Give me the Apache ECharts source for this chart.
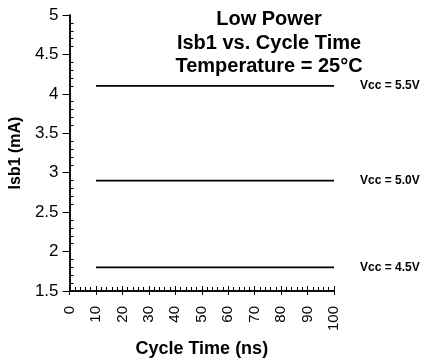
<!DOCTYPE html>
<html>
<head>
<meta charset="utf-8">
<style>
  html, body { margin: 0; padding: 0; background: #fff; }
  #chart { width: 428px; height: 363px; }
</style>
<script src="https://cdn.jsdelivr.net/npm/echarts@6/dist/echarts.min.js"></script>
</head>
<body>
<div id="chart"></div>
<script>
// Standby current vs. cycle time at three supply voltages
const cycleTimes = [10, 100];
const vcc55 = [4.1, 4.1];
const vcc50 = [2.9, 2.9];
const vcc45 = [1.8, 1.8];
const seriesNames = ['Vcc = 5.5V', 'Vcc = 5.0V', 'Vcc = 4.5V'];
const titleLines = ['Low Power', 'Isb1 vs. Cycle Time', 'Temperature = 25°C'];

const font = 'Arial, "Liberation Sans", Helvetica, sans-serif';
const chart = echarts.init(document.getElementById('chart'));

function makeSeries(name, values) {
  return {
    name: name,
    type: 'line',
    data: cycleTimes.map((t, i) => [t, values[i]]),
    symbol: 'none',
    lineStyle: { color: '#000', width: 1.7 },
    endLabel: {
      show: true,
      formatter: name,
      distance: 26,
      color: '#000',
      fontFamily: font,
      fontWeight: 'bold',
      fontSize: 12
    },
    silent: true
  };
}

const baseX = {
  type: 'value', min: 0, max: 100, interval: 10,
  axisLine: { lineStyle: { color: '#000', width: 1.5 } },
  splitLine: { show: false }
};
const baseY = {
  type: 'value', min: 1.5, max: 5, interval: 0.5,
  axisLine: { lineStyle: { color: '#000', width: 1.5 } },
  splitLine: { show: false }
};

chart.setOption({
  animation: false,
  title: {
    text: titleLines.join('\n'),
    left: 264, top: 3, textAlign: 'center',
    textStyle: { fontFamily: font, fontWeight: 'bold', fontSize: 20, lineHeight: 23.5, color: '#000' }
  },
  grid: { left: 65, top: 15, right: 94, bottom: 72 },
  xAxis: [
    Object.assign({}, baseX, {
      name: 'Cycle Time (ns)', nameLocation: 'middle', nameGap: 49,
      nameTextStyle: { fontFamily: font, fontWeight: 'bold', fontSize: 18, color: '#000' },
      axisTick: { show: true, inside: false, length: 4, lineStyle: { color: '#000' } },
      axisLabel: { rotate: 90, fontFamily: font, fontSize: 15, color: '#000', margin: 15 }
    }),
    Object.assign({}, baseX, {
      position: 'bottom',
      axisTick: { show: true, inside: true, length: 5, lineStyle: { color: '#000' } },
      axisLabel: { show: false },
      minorTick: { show: true, splitNumber: 5, length: 4, lineStyle: { color: '#000' } }
    })
  ],
  yAxis: [
    Object.assign({}, baseY, {
      name: 'Isb1 (mA)', nameLocation: 'middle', nameGap: 44,
      nameTextStyle: { fontFamily: font, fontWeight: 'bold', fontSize: 16, color: '#000' },
      axisTick: { show: true, inside: false, length: 7, lineStyle: { color: '#000' } },
      axisLabel: { fontFamily: font, fontSize: 17, color: '#000', margin: 11 }
    }),
    Object.assign({}, baseY, {
      position: 'left',
      axisTick: { show: true, inside: true, length: 0 },
      axisLabel: { show: false },
      minorTick: { show: true, splitNumber: 5, length: 4, lineStyle: { color: '#000' } }
    })
  ],
  series: [
    makeSeries(seriesNames[0], vcc55),
    makeSeries(seriesNames[1], vcc50),
    makeSeries(seriesNames[2], vcc45)
  ]
});
</script>
</body>
</html>
